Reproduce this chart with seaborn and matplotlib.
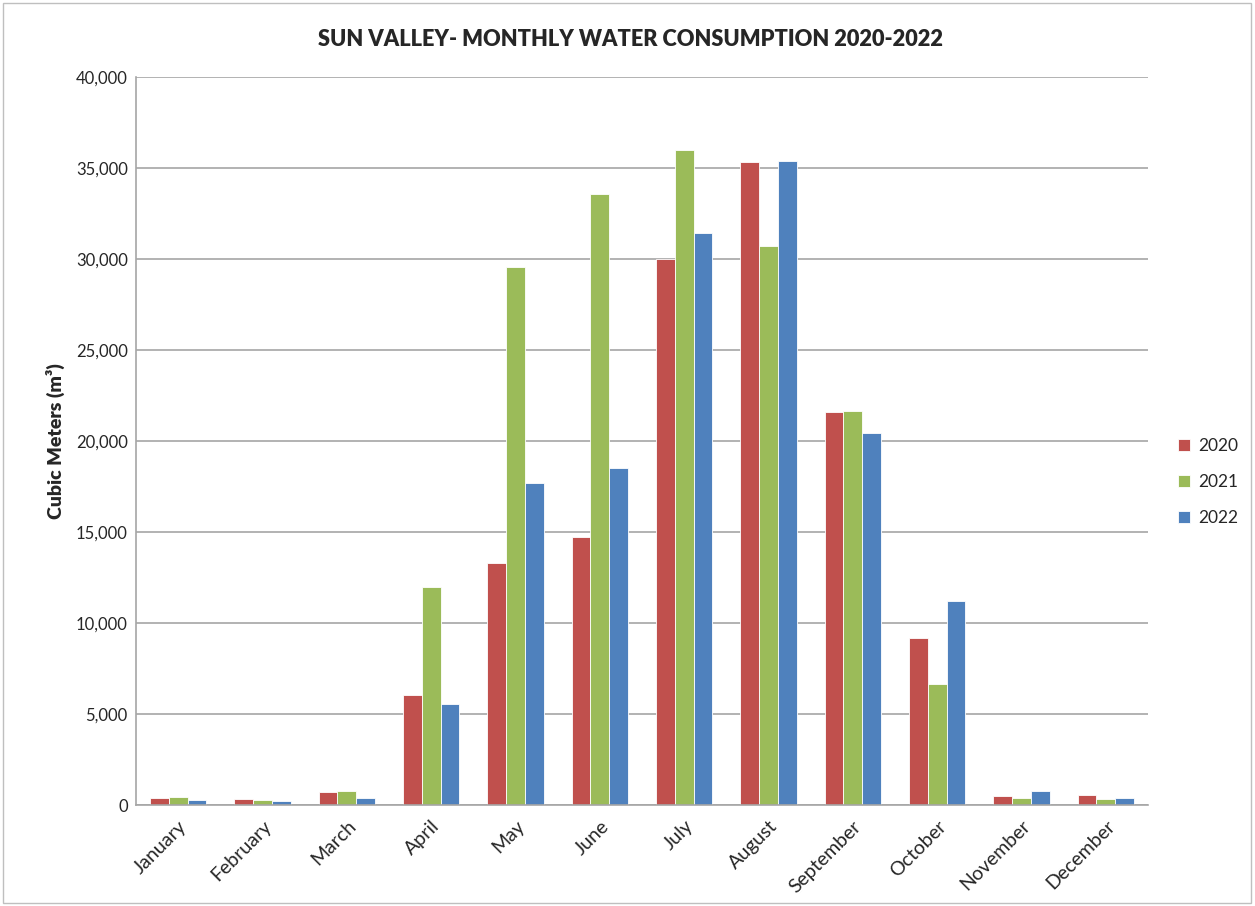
# Sun Valley monthly water consumption 2020-2022, grouped bars

import pandas as pd
import matplotlib.pyplot as plt
import seaborn as sns
from matplotlib.ticker import FuncFormatter
from matplotlib.patches import Rectangle

# ---------------------------------------------------------
# data
# ---------------------------------------------------------

months = ["January", "February", "March", "April", "May", "June",
          "July", "August", "September", "October", "November", "December"]

years = ["2020", "2021", "2022"]

y2020 = [380, 330, 700, 6040, 13280, 14710, 30000, 35310, 21580, 9150, 500, 530]
y2021 = [440, 290, 790, 12000, 29580, 33550, 35990, 30700, 21650, 6650, 400, 310]
y2022 = [260, 220, 400, 5530, 17690, 18500, 31430, 35400, 20420, 11190, 750, 385]

colors = ["#C0504D", "#9BBB59", "#4F81BD"]

df = pd.DataFrame({
    "Month": months * 3,
    "Year": [y for y in years for _ in months],
    "Value": y2020 + y2021 + y2022,
})

# ---------------------------------------------------------
# plot
# ---------------------------------------------------------

sns.set_style("white")
plt.rcParams["font.family"] = ["Lato", "DejaVu Sans"]

fig = plt.figure(figsize=(12.55, 9.06), dpi=100)
ax = fig.add_axes([136 / 1255, 1 - 805 / 906, (1148 - 136) / 1255, (805 - 77) / 906])

sns.barplot(data=df, x="Month", y="Value", hue="Year", order=months,
            hue_order=years, palette=colors, width=0.67, saturation=1,
            edgecolor="white", linewidth=0.6, ax=ax)

ax.set_ylim(0, 40000)
ax.set_xlim(-0.5, 11.5)
ax.set_yticks(range(0, 40001, 5000))
ax.yaxis.set_major_formatter(FuncFormatter(lambda v, p: f"{int(v):,}"))
ax.grid(axis="y", color="#A6A6A6", linewidth=1.2)
ax.set_axisbelow(True)

for side in ["top", "right"]:
    ax.spines[side].set_visible(False)
for side in ["left", "bottom"]:
    ax.spines[side].set_color("#A6A6A6")
    ax.spines[side].set_linewidth(1.2)

ax.tick_params(axis="y", labelsize=12, length=0, pad=6)
ax.tick_params(axis="x", labelsize=14, length=0, pad=9)
plt.setp(ax.get_xticklabels(), rotation=45, ha="right", rotation_mode="anchor")

ax.set_xlabel("")
ax.set_ylabel("Cubic Meters (m³)", fontsize=14, fontweight="heavy", labelpad=8)

fig.text(630 / 1255, 1 - 40 / 906, "SUN VALLEY- MONTHLY WATER CONSUMPTION 2020-2022",
         ha="center", va="center", fontsize=15.7, fontweight="heavy")

ax.legend(title=None, frameon=False, fontsize=12.5, handlelength=0.7,
          handleheight=0.7, handletextpad=0.5, labelspacing=1.15,
          loc="center left", bbox_to_anchor=(1162 / 1255, 1 - 482 / 906),
          bbox_transform=fig.transFigure)

# thin border round the whole chart
fig.patches.append(Rectangle((0.002, 0.003), 0.995, 0.994, transform=fig.transFigure,
                             fill=False, edgecolor="#BFBFBF", linewidth=1))

fig.savefig("out.png", dpi=100)
